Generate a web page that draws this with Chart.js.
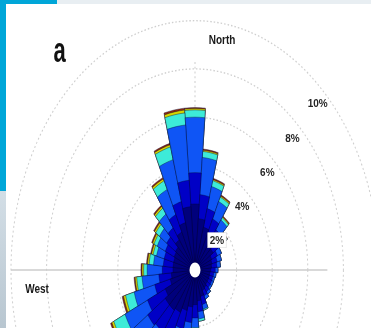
<!DOCTYPE html>
<html><head><meta charset="utf-8">
<script src="https://cdn.jsdelivr.net/npm/chart.js@4.4.1/dist/chart.umd.min.js"></script>
<style>
html,body{margin:0;padding:0;width:371px;height:328px;overflow:hidden;background:#fff;}
#wrap{position:relative;width:371px;height:328px;overflow:hidden;background:#fff;}
#c{position:absolute;left:0;top:0;}
.deco{position:absolute;}
</style></head>
<body>
<div id="wrap">
<canvas id="c" width="390" height="540" style="width:390px;height:540px"></canvas>
<div class="deco" style="left:0;top:0;width:371px;height:4px;background:#e8eef2"></div>
<div class="deco" style="left:0;top:0;width:57px;height:4px;background:#00a6d8"></div>
<div class="deco" style="left:0;top:0;width:6px;height:191px;background:#00a6d8"></div>
<div class="deco" style="left:0;top:191px;width:6px;height:137px;background:linear-gradient(#d3dee6,#b8c6d0)"></div>
</div>
<script>
// Direction sectors (degrees clockwise from North)
const directions = ['0','10','20','30','40','50','60','70','80','90','100','110','120','130','140','150','160','170',
                    '180','190','200','210','220','230','240','250','260','270','280','290','300','310','320','330','340','350'];
// Frequency (%) of each speed bin per direction
const bin1 = [2.4,1.8,1.5,1.3,1.1,0.9,0.7,0.65,0.6,0.55,0.5,0.5,0.5,0.5,0.55,0.6,0.8,0.95,
              1.1,1.2,1.4,1.6,1.7,1.7,1.5,1.1,1.0,0.9,0.9,0.9,0.95,1.0,1.2,1.4,1.7,2.3];
const bin2 = [1.3,1.0,0.8,0.7,0.6,0.5,0.35,0.3,0.3,0.25,0.22,0.2,0.2,0.2,0.22,0.25,0.35,0.45,
              0.55,0.65,0.8,1.0,1.1,1.2,1.1,0.9,0.7,0.6,0.55,0.55,0.55,0.6,0.6,0.8,0.9,1.1];
const bin3 = [2.3,1.55,0.95,0.8,0.5,0.4,0.25,0.25,0.2,0.15,0.13,0.1,0.1,0.1,0.13,0.15,0.2,0.3,
              0.4,0.55,0.7,0.95,1.3,1.6,1.4,1.2,0.95,0.85,0.55,0.45,0.5,0.5,0.7,1.15,1.8,2.3];
const bin4 = [0.3,0.25,0.25,0.2,0.12,0.06,0,0,0,0,0,0,0,0,0,0,0.05,0.1,
              0.12,0.15,0.22,0.33,0.5,0.6,0.7,0.5,0.3,0.2,0.25,0.2,0.2,0.25,0.3,0.4,0.55,0.5];
const bin5 = [0.06,0.05,0.05,0.05,0.04,0.02,0,0,0,0,0,0,0,0,0,0,0,0,
              0.02,0.03,0.05,0.07,0.12,0.12,0.12,0.12,0.09,0.09,0.09,0.09,0.09,0.09,0.09,0.09,0.09,0.12];
const bin6 = [0.04,0.05,0.05,0.05,0.04,0.02,0,0,0,0,0,0,0,0,0,0,0,0,
              0.01,0.02,0.03,0.05,0.08,0.08,0.08,0.08,0.06,0.06,0.06,0.06,0.06,0.06,0.06,0.06,0.06,0.08];
const binColors = ['#00007c','#0000c6','#0f55f5','#3debd8','#d6d600','#8c2a10'];
const tickValues = [2,4,6,8,10];
const tickLabels = ['2%','4%','6%','8%','10%'];
const axisLabels = ['North','West'];
const panelLabel = 'a';

const STRETCH = 1.355;
const bins = [bin1,bin2,bin3,bin4,bin5,bin6];
// cumulative totals so that each layer is drawn over the next
const cumulative = [];
bins.forEach((b,k)=>{
  cumulative.push(b.map((v,i)=> (k? cumulative[k-1][i] : 0) + v));
});
const datasets = cumulative.map((vals,k)=>({
  data: vals.map(v=>+v.toFixed(3)),
  backgroundColor: binColors[k],
  borderColor: 'rgba(0,0,50,0.55)',
  borderWidth: 0.6
}));

const stretchPlugin = {
  id:'stretch',
  beforeDraw(chart){
    const s = chart.scales.r, ctx = chart.ctx;
    ctx.save();
    ctx.translate(s.xCenter, s.yCenter);
    ctx.scale(1, STRETCH);
    ctx.translate(-s.xCenter, -s.yCenter);
  },
  beforeDatasetsDraw(chart){
    const s = chart.scales.r, ctx = chart.ctx;
    const cx = s.xCenter, cy = s.yCenter;
    ctx.save();
    ctx.lineWidth = 1;
    ctx.strokeStyle = '#cdcdcd';
    ctx.beginPath();
    ctx.moveTo(cx - s.getDistanceFromCenterForValue(10), cy);
    ctx.lineTo(cx + s.getDistanceFromCenterForValue(7.1), cy);
    ctx.stroke();
    ctx.setLineDash([1.5,2]);
    ctx.beginPath();
    ctx.moveTo(cx, cy + s.getDistanceFromCenterForValue(10));
    ctx.lineTo(cx, cy - s.getDistanceFromCenterForValue(8.4));
    ctx.stroke();
    ctx.restore();
  },
  afterDatasetsDraw(chart){
    const s = chart.scales.r, ctx = chart.ctx;
    ctx.save();
    ctx.fillStyle = '#fff';
    ctx.beginPath();
    ctx.arc(s.xCenter, s.yCenter, s.getDistanceFromCenterForValue(0)-0.5, 0, Math.PI*2);
    ctx.fill();
    ctx.restore();
  },
  afterDraw(chart){
    const ctx = chart.ctx, s = chart.scales.r;
    ctx.restore();
    const cx = s.xCenter, cy = s.yCenter;
    const txt = (t,x,y,font,sy,color)=>{
      ctx.save();
      ctx.translate(x,y); ctx.scale(1,sy);
      ctx.font = font; ctx.fillStyle = color;
      ctx.textAlign='center'; ctx.textBaseline='middle';
      ctx.fillText(t,0,0);
      ctx.restore();
    };
    ctx.save();
    ctx.font = 'bold 10px "Liberation Sans", Arial, sans-serif';
    tickValues.forEach((v,i)=>{
      const d = s.getDistanceFromCenterForValue(v) - 10.5;
      const x = cx + d*Math.SQRT1_2, y = cy - d*Math.SQRT1_2*STRETCH;
      if (i===0){
        const w = ctx.measureText(tickLabels[i]).width;
        ctx.fillStyle='#fff';
        ctx.fillRect(x - w/2 - 2, y - 7.5, w + 4, 15);
        ctx.strokeStyle='#ddd'; ctx.lineWidth=0.6;
        ctx.strokeRect(x - w/2 - 2, y - 7.5, w + 4, 15);
      }
      txt(tickLabels[i], x, y+0.5, 'bold 10px "Liberation Sans", Arial, sans-serif', 1.15, '#262626');
    });
    txt(axisLabels[0], cx+27, cy-229, 'bold 10px "Liberation Sans", Arial, sans-serif', 1.2, '#1a1a1a');
    txt(axisLabels[1], cx-158, cy+20, 'bold 10px "Liberation Sans", Arial, sans-serif', 1.2, '#1a1a1a');
    txt(panelLabel, 59.5, 52, 'bold 22px "Liberation Sans", Arial, sans-serif', 1.6, '#111');
    ctx.restore();
  }
};

new Chart(document.getElementById('c'), {
  type:'polarArea',
  data:{ labels: directions, datasets },
  options:{
    responsive:false,
    animation:false,
    events:[],
    layout:{ padding: 11 },
    plugins:{ legend:{display:false}, tooltip:{enabled:false} },
    scales:{
      r:{
        min:-0.337, max:10,
        startAngle:-5,
        ticks:{ display:false, stepSize:2 },
        pointLabels:{ display:false },
        angleLines:{ display:false },
        grid:{ circular:true, lineWidth:1,
          color: c => (c.tick && c.tick.value > 0.5) ? '#cfcfcf' : 'rgba(0,0,0,0)' },
        border:{ dash:[1.5,2] }
      }
    }
  },
  plugins:[stretchPlugin]
});
</script>
</body></html>
